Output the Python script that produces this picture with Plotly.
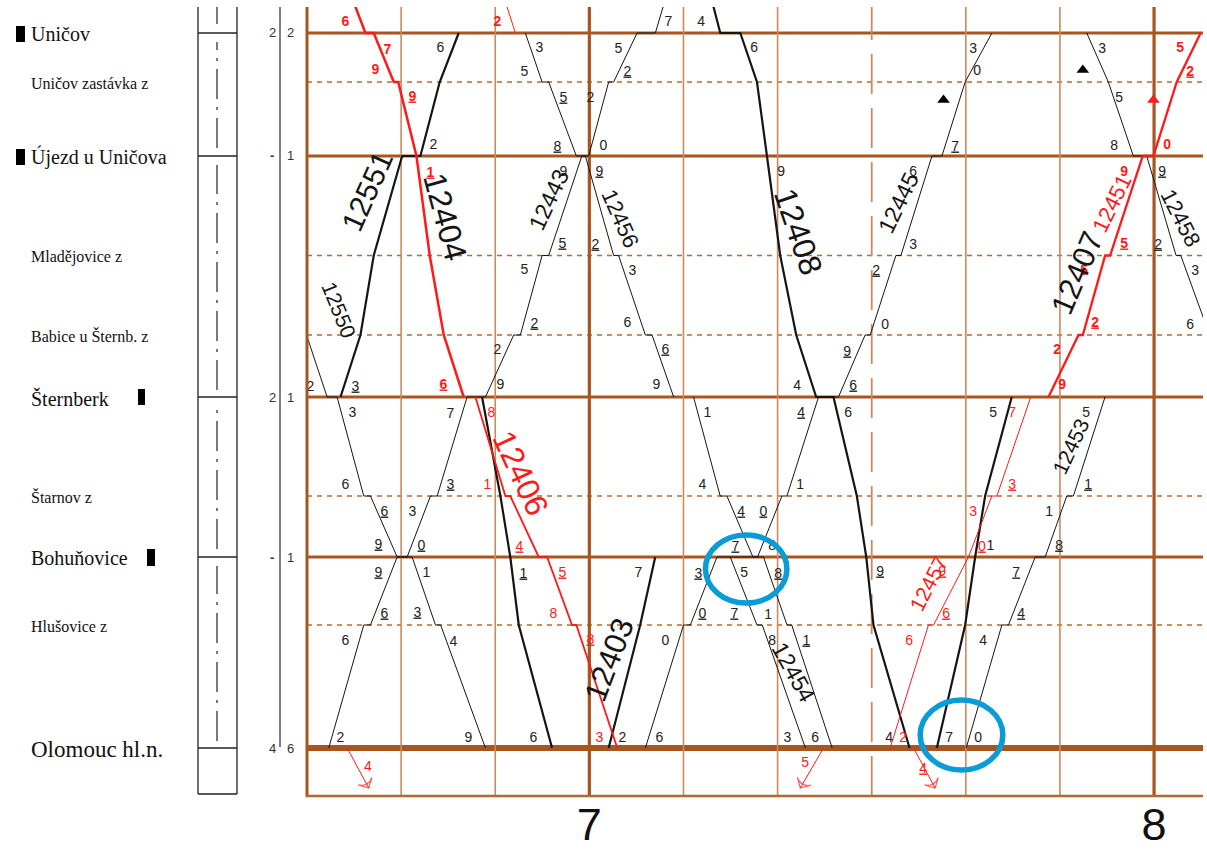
import plotly.graph_objects as go

# ------------------------------------------------------------------ data
STATION_NAMES = ["Uničov", "Uničov zastávka z", "Újezd u Uničova", "Mladějovice z",
                 "Babice u Šternb. z", "Šternberk", "Štarnov z", "Bohuňovice",
                 "Hlušovice z", "Olomouc hl.n."]
STATION_CODES = ["UN", "UZ", "UJ", "ML", "BA", "ST", "SR", "BO", "HL", "OL"]
STATION_KM = [28.6, 26.64, 23.68, 19.7, 16.52, 14.04, 10.08, 7.64, 4.92, 0.0]
STATION_KIND = ["main", "stop", "main", "stop", "stop", "main", "stop", "main", "stop", "end"]
OFF_TOP_KM = 30.5     # train continues beyond Uničov
OFF_BOT_KM = -1.6     # train continues beyond Olomouc

TRACK_STATIONS = ["UN", "UJ", "ST", "BO", "OL"]
TRACK_LEFT = ["2", "<b>-</b>", "2", "<b>-</b>", "4"]
TRACK_RIGHT = ["2", "1", "1", "1", "6"]

HOUR_TICKS = [60, 120]          # minutes after 6:00
HOUR_LABELS = ["7", "8"]
TIME_RANGE = [30, 125.2]
KM_RANGE = [-1.92, 29.64]

# train paths: time in minutes after 6:00, station codes
T_12404 = [34.27, 36.21, 37.09, 39.22, 39.69, 41.63, 43.04, 44.53, 46.65]
S_12404 = ["TOP", "UN", "UN", "UZ", "UZ", "UJ", "ML", "BA", "ST"]
T_12551 = [33.56, 35.68, 37.09, 40.11, 42.05, 44.10, 46.12]
S_12551 = ["ST", "BA", "ML", "UJ", "UJ", "UZ", "UN"]
T_12550 = [27.5, 29.95, 32.14, 33.2, 36.03, 36.74, 39.58, 41.17, 43.65, 44.2, 48.96]
S_12550 = ["ML", "BA", "ST", "ST", "SR", "SR", "BO", "BO", "HL", "HL", "OL"]
T_12443 = [32.31, 36.03, 36.74, 39.58, 40.64, 43.12, 43.83, 47.01, 48.96, 51.96, 52.67,
           54.98, 55.68, 59.2, 59.93, 62.05, 62.58, 65.07, 67.01, 68.51]
S_12443 = ["OL", "HL", "HL", "BO", "BO", "SR", "SR", "ST", "ST", "BA", "BA",
           "ML", "ML", "UJ", "UJ", "UZ", "UZ", "UN", "UN", "TOP"]
T_RED_IN = [50.53, 52.14]
S_RED_IN = ["TOP", "UN"]
T_12456 = [53.2, 54.98, 55.68, 58.62, 59.58, 62.58, 63.11, 65.95, 66.66, 68.96]
S_12456 = ["UN", "UZ", "UZ", "UJ", "UJ", "ML", "ML", "BA", "BA", "ST"]
T_12406 = [47.89, 51.08, 51.6, 54.62, 55.51, 58.16, 58.62, 62.97]
S_12406 = ["ST", "SR", "SR", "BO", "BO", "HL", "HL", "OL"]
T_FAST = [48.6, 50.55, 51.6, 52.5, 56.04]
S_FAST = ["ST", "SR", "BO", "HL", "OL"]
T_12403 = [62.05, 65.4, 67.0]
S_12403 = ["OL", "HL", "BO"]
T_12408 = [72.61, 73.91, 76.04, 77.81, 78.87, 80.28, 81.98, 84.1, 85.94, 88.42, 89.42, 90.19, 94.02]
S_12408 = ["TOP", "UN", "UN", "UZ", "UJ", "ML", "BA", "ST", "ST", "SR", "BO", "HL", "OL"]
T_12454 = [71.07, 73.9, 74.62, 77.38, 78.5, 81.0, 81.5, 85.8]
S_12454 = ["ST", "SR", "SR", "BO", "BO", "HL", "HL", "OL"]
T_BOH = [74.97, 77.81, 78.37, 82.96]
S_BOH = ["BO", "HL", "HL", "OL"]
T_12445 = [65.95, 70.01, 70.73, 73.56, 77.87, 80.46, 80.99, 84.35, 86.47, 89.3, 89.84,
           92.57, 93.1, 96.4, 97.46, 99.93, 102.77]
S_12445 = ["OL", "HL", "HL", "BO", "BO", "SR", "SR", "ST", "ST", "BA", "BA",
           "ML", "ML", "UJ", "UJ", "UZ", "UN"]
T_12457 = [91.96, 96.03, 96.57, 100.28, 102.77, 103.3, 106.9]
S_12457 = ["OL", "HL", "HL", "BO", "SR", "SR", "ST"]
T_12407 = [96.92, 99.93, 100.99, 102.05, 104.88]
S_12407 = ["OL", "HL", "BO", "SR", "ST"]
T_12451 = [108.78, 111.97, 112.43, 114.8, 115.33, 118.8, 119.93, 122.41, 124.95]
S_12451 = ["ST", "BA", "BA", "ML", "ML", "UJ", "UJ", "UZ", "UN"]
T_12453 = [100.04, 103.83, 104.53, 107.37, 108.43, 110.73, 111.43, 114.79]
S_12453 = ["OL", "HL", "HL", "BO", "BO", "SR", "SR", "ST"]
T_12458 = [112.85, 115.14, 117.8, 119.22, 122.34, 122.84, 125.9]
S_12458 = ["UN", "UZ", "UJ", "UJ", "ML", "ML", "BA"]
T_OUT_1 = [34.27, 36.56]
S_OUT_1 = ["OL", "BOT"]
T_IN_2 = [84.88, 82.41]
S_IN_2 = ["OL", "BOT"]
T_OUT_3 = [94.44, 96.74]
S_OUT_3 = ["OL", "BOT"]

# stop-marker triangles (time, km)
TRI_BLACK_T = [97.63, 112.43]
TRI_BLACK_KM = [25.92, 27.12]
TRI_RED_T = [119.93]
TRI_RED_KM = [25.92]

# minute labels (time, km, text)
LBL_BLACK = [
    (35.15, 14.44, "<u>3</u>"), (43.43, 24.12, "2"), (44.18, 28.0, "6"),
    (30.37, 14.44, "2"), (34.83, 13.4, "3"), (34.09, 10.52, "6"), (38.23, 9.44, "<u>6</u>"),
    (37.59, 8.12, "<u>9</u>"), (42.69, 7.0, "1"), (41.73, 5.4, "<u>3</u>"), (45.56, 4.24, "4"),
    (47.15, 0.4, "9"),
    (33.56, 0.4, "2"), (34.09, 4.28, "6"), (38.23, 5.36, "<u>6</u>"), (37.59, 7.0, "<u>9</u>"),
    (42.16, 8.08, "<u>0</u>"), (41.2, 9.44, "3"), (45.24, 10.52, "<u>3</u>"), (45.24, 13.36, "7"),
    (50.55, 14.52, "9"), (50.23, 15.92, "2"), (54.16, 16.96, "<u>2</u>"), (53.1, 19.12, "5"),
    (57.13, 20.16, "<u>5</u>"), (57.24, 23.04, "9"), (61.49, 24.08, "0"), (60.11, 26.0, "2"),
    (64.04, 27.04, "<u>2</u>"), (63.08, 27.96, "5"), (68.39, 29.04, "7"),
    (54.69, 28.0, "3"), (53.1, 27.04, "5"), (57.24, 26.0, "<u>5</u>"), (56.6, 24.04, "<u>8</u>"),
    (61.06, 23.04, "<u>9</u>"), (60.64, 20.12, "<u>2</u>"), (64.57, 19.08, "3"), (64.04, 17.0, "6"),
    (68.07, 15.92, "<u>6</u>"), (67.12, 14.52, "9"),
    (52.99, 6.96, "<u>1</u>"), (54.05, 0.4, "6"),
    (63.5, 0.4, "2"), (65.2, 7.0, "7"),
    (71.89, 29.04, "4"), (77.52, 28.0, "6"), (80.39, 23.04, "9"), (82.09, 14.48, "4"),
    (87.51, 13.4, "6"), (90.9, 7.04, "<u>9</u>"), (91.86, 0.4, "4"),
    (72.53, 13.4, "1"), (72.0, 10.52, "4"), (76.14, 9.44, "<u>4</u>"), (75.51, 8.04, "<u>7</u>"),
    (80.07, 6.96, "<u>8</u>"), (79.01, 5.32, "1"), (83.05, 4.28, "<u>1</u>"), (84.0, 0.4, "6"),
    (76.46, 7.0, "5"), (75.4, 5.36, "<u>7</u>"), (79.43, 4.28, "8"), (81.03, 0.4, "3"),
    (67.43, 0.4, "6"), (68.07, 4.28, "0"), (72.0, 5.36, "<u>0</u>"), (71.58, 6.96, "<u>3</u>"),
    (79.43, 8.08, "8"), (78.48, 9.44, "<u>0</u>"), (82.41, 10.52, "1"), (82.51, 13.4, "<u>4</u>"),
    (88.04, 14.48, "<u>6</u>"), (87.4, 15.84, "<u>9</u>"), (91.44, 16.92, "0"), (90.48, 19.08, "<u>2</u>"),
    (94.41, 20.12, "3"), (94.41, 23.04, "<u>6</u>"), (98.87, 24.04, "<u>7</u>"), (101.21, 27.08, "0"),
    (100.78, 27.96, "3"),
    (98.23, 0.4, "7"), (102.6, 8.08, "1"), (102.9, 13.4, "5"),
    (101.31, 0.4, "0"), (101.84, 4.28, "4"), (105.88, 5.36, "<u>4</u>"), (105.35, 7.0, "<u>7</u>"),
    (109.91, 8.08, "<u>8</u>"), (108.85, 9.44, "1"), (112.99, 10.52, "<u>1</u>"), (112.78, 13.4, "5"),
    (114.48, 27.96, "3"), (116.29, 26.0, "5"), (115.76, 24.08, "8"), (120.85, 23.04, "<u>9</u>"),
    (120.43, 20.12, "<u>2</u>"), (124.36, 19.08, "3"), (123.84, 16.92, "6"),
]
LBL_RED_BOLD = [
    (34.09, 29.04, "6"), (38.55, 27.92, "7"), (37.27, 27.12, "9"), (41.2, 26.04, "<u>9</u>"),
    (43.11, 23.0, "<u>1</u>"), (44.5, 14.52, "<u>6</u>"), (50.23, 29.04, "2"),
    (110.23, 14.52, "9"), (109.7, 15.92, "2"), (113.74, 17.0, "<u>2</u>"), (112.57, 19.08, "5"),
    (116.82, 20.16, "<u>5</u>"), (116.82, 23.04, "9"), (121.4, 24.12, "0"), (123.84, 27.04, "<u>2</u>"),
    (122.76, 28.0, "5"),
]
LBL_RED = [
    (49.59, 13.4, "8"), (49.17, 10.52, "1"), (52.57, 8.04, "<u>4</u>"), (57.13, 7.0, "<u>5</u>"),
    (56.18, 5.36, "8"), (60.11, 4.32, "<u>8</u>"), (61.06, 0.4, "3"),
    (93.35, 0.4, "2"), (93.98, 4.28, "6"), (97.91, 5.36, "<u>6</u>"), (97.49, 7.04, "<u>9</u>"),
    (101.7, 8.04, "<u>0</u>"), (100.78, 9.44, "3"), (104.92, 10.52, "<u>3</u>"), (104.92, 13.4, "7"),
    (36.47, -0.76, "4"), (82.94, -0.6, "5"), (95.47, -0.84, "<u>4</u>"),
]

# train number labels: (text, time, km)
NUM_TEXT = ["12551", "12404", "12550", "12443", "12456", "12408", "12406", "12403",
            "12454", "12445", "12451", "12407", "12458", "12453", "12457"]
NUM_T = [36.39, 44.71, 33.45, 55.68, 63.29, 82.23, 52.67, 62.05,
         81.7, 92.85, 115.51, 111.79, 122.85, 111.16, 96.03]
NUM_KM = [22.25, 21.25, 17.52, 21.92, 21.19, 20.65, 10.99, 3.52,
          3.05, 21.79, 21.79, 18.99, 21.19, 12.05, 6.59]

# highlighted regions (time range, km range)
CIRCLE_T = [(72.34, 80.99), (95.15, 103.93)]
CIRCLE_KM = [(5.8, 8.52), (-0.88, 1.92)]

# ------------------------------------------------------------------ styles
RED = "#FF1A1A"
BLACK = "#151515"
BROWN = "#A8561F"
BROWN_LIGHT = "#C98A5E"
BROWN_DASH = "#B8692F"
BLUE = "#0B9BD7"
W, H = 1207, 853

KM = dict(zip(STATION_CODES, STATION_KM))
KM["TOP"] = OFF_TOP_KM
KM["BOT"] = OFF_BOT_KM


def px(x):
    return x / W


def py(y):
    return 1 - y / H


fig = go.Figure()
shapes = []
annotations = []

# ---- grid: stations
for code, kind in zip(STATION_CODES, STATION_KIND):
    if kind == "stop":
        line = dict(color=BROWN_DASH, width=1.4, dash="5px,5px")
    elif kind == "end":
        line = dict(color=BROWN, width=6)
    else:
        line = dict(color=BROWN, width=3.2)
    shapes.append(dict(type="line", xref="x", yref="y", x0=TIME_RANGE[0], x1=TIME_RANGE[1],
                       y0=KM[code], y1=KM[code], line=line, layer="below"))

# ---- grid: time lines every 10 minutes
for m in range(40, 125, 10):
    if m % 60 == 0:
        line = dict(color=BROWN, width=3.2)
    elif m % 30 == 0:
        line = dict(color=BROWN_LIGHT, width=1.8, dash="40px,14px")
    else:
        line = dict(color=BROWN_LIGHT, width=1.6)
    shapes.append(dict(type="line", xref="x", yref="y", x0=m, x1=m,
                       y0=KM_RANGE[0], y1=KM_RANGE[1], line=line, layer="below"))

# ---- frame (left + bottom)
shapes.append(dict(type="line", xref="paper", yref="paper", x0=px(307), x1=px(307),
                   y0=py(797), y1=py(7), line=dict(color=BROWN, width=3)))
shapes.append(dict(type="line", xref="paper", yref="paper", x0=px(306), x1=px(1203),
                   y0=py(796), y1=py(796), line=dict(color="#B5672F", width=2.5)))

# ---- highlight circles
for (t0, t1), (k0, k1) in zip(CIRCLE_T, CIRCLE_KM):
    shapes.append(dict(type="circle", xref="x", yref="y", x0=t0, x1=t1, y0=k0, y1=k1,
                       line=dict(color=BLUE, width=5.5), layer="above"))

# ---- left: station names
name_px = {"main": 20, "stop": 16, "end": 23}
for name, km, kind in zip(STATION_NAMES, STATION_KM, STATION_KIND):
    ypix = 748 - km * 25
    annotations.append(dict(xref="paper", yref="paper", x=px(29), y=py(ypix + 1), text=name,
                            showarrow=False, xanchor="left", yanchor="middle",
                            font=dict(family="Liberation Serif", size=name_px[kind], color="#111")))

# black station marks
for (x0, x1, y0, y1) in [(16, 25, 26, 42), (16, 25, 149, 165), (138, 145, 389, 405), (147, 155, 549, 566)]:
    shapes.append(dict(type="rect", xref="paper", yref="paper", x0=px(x0), x1=px(x1),
                       y0=py(y1), y1=py(y0), fillcolor="black", line=dict(width=0)))

# track column
for xx in (198, 237):
    shapes.append(dict(type="line", xref="paper", yref="paper", x0=px(xx), x1=px(xx),
                       y0=py(794), y1=py(7), line=dict(color="#222", width=1.3)))
shapes.append(dict(type="line", xref="paper", yref="paper", x0=px(198), x1=px(237),
                   y0=py(794), y1=py(794), line=dict(color="#222", width=1.3)))
for code in TRACK_STATIONS:
    yy = 748 - KM[code] * 25
    shapes.append(dict(type="line", xref="paper", yref="paper", x0=px(198), x1=px(237),
                       y0=py(yy), y1=py(yy), line=dict(color="#222", width=1.3)))
for (a, b) in [(7, 24), (42, 148), (165, 390), (406, 549), (566, 741)]:
    shapes.append(dict(type="line", xref="paper", yref="paper", x0=px(217), x1=px(217),
                       y0=py(b), y1=py(a), line=dict(color="#222", width=1.2, dash="30px,8px,3px,8px")))

# track counts
shapes.append(dict(type="line", xref="paper", yref="paper", x0=px(280), x1=px(280),
                   y0=py(747), y1=py(7), line=dict(color="#555", width=1.5)))
for code, l, r in zip(TRACK_STATIONS, TRACK_LEFT, TRACK_RIGHT):
    yy = 748 - KM[code] * 25
    annotations.append(dict(xref="paper", yref="paper", x=px(272), y=py(yy), text=l, showarrow=False,
                            xanchor="center", yanchor="middle",
                            font=dict(family="Liberation Sans", size=13, color="#333")))
    annotations.append(dict(xref="paper", yref="paper", x=px(290), y=py(yy), text=r, showarrow=False,
                            xanchor="center", yanchor="middle",
                            font=dict(family="Liberation Sans", size=13, color="#333")))

# ---- trains
TRAINS = [
    (T_12550, S_12550, BLACK, 1.0), (T_12443, S_12443, BLACK, 1.0), (T_12456, S_12456, BLACK, 1.0),
    (T_12454, S_12454, BLACK, 1.0), (T_BOH, S_BOH, BLACK, 1.0), (T_12445, S_12445, BLACK, 1.0),
    (T_12453, S_12453, BLACK, 1.0), (T_12458, S_12458, BLACK, 1.0),
    (T_12551, S_12551, BLACK, 2.2), (T_FAST, S_FAST, BLACK, 2.2), (T_12403, S_12403, BLACK, 2.2),
    (T_12408, S_12408, BLACK, 2.2), (T_12407, S_12407, BLACK, 2.2),
    (T_RED_IN, S_RED_IN, RED, 1.0), (T_12457, S_12457, RED, 1.0),
    (T_12406, S_12406, RED, 1.8),
    (T_12404, S_12404, RED, 2.5), (T_12451, S_12451, RED, 2.3),
]
for tt, ss, col, wd in TRAINS:
    fig.add_trace(go.Scatter(x=tt, y=[KM[s] for s in ss], mode="lines",
                             line=dict(color=col, width=wd), hoverinfo="skip"))

for tt, ss in [(T_OUT_1, S_OUT_1), (T_IN_2, S_IN_2), (T_OUT_3, S_OUT_3)]:
    fig.add_trace(go.Scatter(x=tt, y=[KM[s] for s in ss], mode="lines+markers",
                             line=dict(color=RED, width=1.0),
                             marker=dict(symbol="arrow-wide-open", size=[0, 11], angleref="previous",
                                         color=RED, line=dict(color=RED, width=1.2)),
                             hoverinfo="skip", cliponaxis=False))

fig.add_trace(go.Scatter(x=TRI_BLACK_T, y=TRI_BLACK_KM, mode="markers",
                         marker=dict(symbol="triangle-up", size=11, color="black"), hoverinfo="skip"))
fig.add_trace(go.Scatter(x=TRI_RED_T, y=TRI_RED_KM, mode="markers",
                         marker=dict(symbol="triangle-up", size=11, color=RED), hoverinfo="skip"))

# ---- minute labels
for lbls, col, bold in [(LBL_BLACK, "#222", False), (LBL_RED, RED, False), (LBL_RED_BOLD, RED, True)]:
    fig.add_trace(go.Scatter(
        x=[a for a, _, _ in lbls], y=[b for _, b, _ in lbls],
        text=[("<b>%s</b>" % c) if bold else c for _, _, c in lbls],
        mode="text", textposition="middle center", cliponaxis=False, hoverinfo="skip",
        textfont=dict(family="Liberation Sans", size=14, color=col)))

# ---- train numbers
NUM_STYLE = {
    "12551": (-66, 30, BLACK), "12404": (75, 32, BLACK), "12550": (68, 21, BLACK),
    "12443": (-65, 23, BLACK), "12456": (66, 22, BLACK), "12408": (71, 32, BLACK),
    "12406": (65, 32, RED), "12403": (-69, 31, BLACK), "12454": (61, 23, BLACK),
    "12445": (-64, 23, BLACK), "12451": (-64, 22, RED), "12407": (-67, 31, BLACK),
    "12458": (63, 22, BLACK), "12453": (-65, 21, BLACK), "12457": (-63, 21, RED),
}
for txt, t, k in zip(NUM_TEXT, NUM_T, NUM_KM):
    ang, sz, col = NUM_STYLE[txt]
    annotations.append(dict(x=t, y=k, xref="x", yref="y", text=txt, textangle=ang, showarrow=False,
                            font=dict(family="Liberation Sans", size=sz, color=col)))

fig.update_layout(
    width=W, height=H, margin=dict(l=0, r=0, t=0, b=0),
    paper_bgcolor="white", plot_bgcolor="white", showlegend=False,
    shapes=shapes, annotations=annotations,
    xaxis=dict(domain=[307 / W, 1203 / W], range=TIME_RANGE, showgrid=False, zeroline=False,
               showline=False, tickvals=HOUR_TICKS, ticktext=HOUR_LABELS, ticks="",
               tickfont=dict(family="Liberation Sans", size=45, color="#111"),
               ticklabelstandoff=-2, fixedrange=True),
    yaxis=dict(domain=[(H - 796) / H, (H - 7) / H], range=KM_RANGE, visible=False, fixedrange=True),
)

POST = (
    "document.documentElement.style.margin='0';document.body.style.margin='0';"
    "document.documentElement.style.overflow='hidden';document.body.style.overflow='hidden';"
    "var els=document.querySelectorAll('.plotly-graph-div, .plot-container, .svg-container, .main-svg');"
    "for(var i=0;i<els.length;i++){els[i].style.overflow='hidden';}"
)
fig.write_html("out.html", config={"displayModeBar": False}, post_script=POST)
